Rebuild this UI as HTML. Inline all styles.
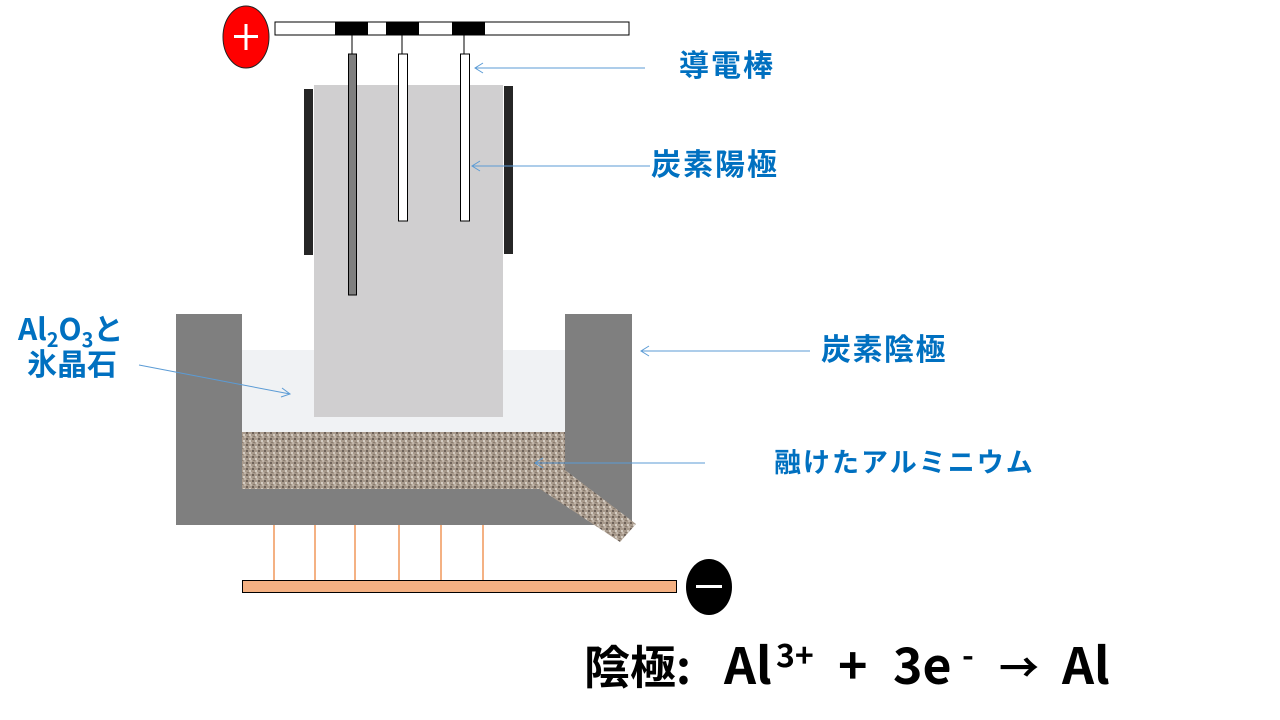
<!DOCTYPE html>
<html><head><meta charset="utf-8"><style>
html,body{margin:0;padding:0;background:#fff;}
svg{display:block;}
text{font-family:"Noto Sans CJK JP","Liberation Sans",sans-serif;font-weight:bold;}
</style></head><body>
<svg width="1280" height="720" viewBox="0 0 1280 720" xmlns="http://www.w3.org/2000/svg">
<defs>
<pattern id="al" width="6" height="6" patternUnits="userSpaceOnUse">
<rect width="6" height="6" fill="#a89a8c"/>
<rect x="0" y="0" width="2" height="2" fill="#6e6259"/>
<rect x="3" y="2" width="2" height="2" fill="#d4ccc2"/>
<rect x="1" y="4" width="2" height="1" fill="#8a7d70"/>
<rect x="4" y="4" width="2" height="2" fill="#c2b6aa"/>
</pattern>
</defs>
<ellipse cx="246" cy="37" rx="23" ry="31" fill="#ff0000" stroke="#222" stroke-width="1"/>
<rect x="234" y="35" width="24" height="3" fill="#fff"/>
<rect x="244.5" y="24" width="3" height="26" fill="#fff"/>
<rect x="275" y="22" width="354" height="13" fill="#fff" stroke="#000" stroke-width="1"/>
<rect x="335" y="22" width="33" height="13" fill="#000"/>
<rect x="386" y="22" width="33" height="13" fill="#000"/>
<rect x="452" y="22" width="33" height="13" fill="#000"/>
<line x1="352" y1="35" x2="352" y2="54" stroke="#000"/>
<line x1="402" y1="35" x2="402" y2="54" stroke="#000"/>
<line x1="464" y1="35" x2="464" y2="54" stroke="#000"/>
<rect x="304" y="89" width="9" height="166" fill="#262626"/>
<rect x="504" y="86" width="9" height="168" fill="#262626"/>
<rect x="176" y="314" width="456" height="211" fill="#7f7f7f"/>
<rect x="242" y="314" width="323" height="36" fill="#fff"/>
<rect x="242" y="350" width="323" height="82" fill="#f0f2f4"/>
<rect x="242" y="432" width="323" height="57" fill="url(#al)"/>
<polygon points="540,489 565,470 636,524 620,542" fill="url(#al)"/>
<rect x="314" y="85" width="189" height="332" fill="#d0cfd0"/>
<rect x="348.5" y="54" width="8" height="241" fill="#7f7f7f" stroke="#000" stroke-width="1"/>
<rect x="398.5" y="54" width="9" height="167" fill="#fff" stroke="#000" stroke-width="1"/>
<rect x="460.5" y="54" width="9" height="167" fill="#fff" stroke="#000" stroke-width="1"/>
<g stroke="#ed7d31" stroke-width="1.2">
<line x1="274" y1="525" x2="274" y2="582"/><line x1="315" y1="525" x2="315" y2="582"/>
<line x1="355" y1="525" x2="355" y2="586"/><line x1="399" y1="525" x2="399" y2="586"/>
<line x1="441" y1="525" x2="441" y2="586"/><line x1="483" y1="525" x2="483" y2="582"/>
</g>
<rect x="242.5" y="580.5" width="434" height="12" fill="#f4b183" stroke="#000" stroke-width="1"/>
<ellipse cx="709" cy="587" rx="23" ry="28" fill="#000"/>
<rect x="696" y="585" width="26" height="3" fill="#fff"/>
<g stroke="#5b9bd5" stroke-width="1" fill="none">
<line x1="645" y1="68" x2="475" y2="68"/><polyline points="483,63 475,68 483,73"/>
<line x1="650" y1="166" x2="472" y2="166"/><polyline points="480,161 472,166 480,171"/>
<line x1="810" y1="351" x2="641" y2="351"/><polyline points="649,346 641,351 649,356"/>
<line x1="705" y1="463" x2="535" y2="463"/><polyline points="543,458 535,463 543,468"/>
<line x1="139" y1="365" x2="290" y2="394"/><polyline points="282,388 290,394 281,397"/>
</g>
<g fill="#0070c0">
<text x="679" y="76" font-size="30" letter-spacing="2">導電棒</text>
<text x="651" y="175" font-size="30" letter-spacing="2">炭素陽極</text>
<text x="821" y="360" font-size="30" letter-spacing="1.5">炭素陰極</text>
<text x="774" y="472" font-size="27" letter-spacing="2">融けたアルミニウム</text>
<text x="18" y="340" font-size="30">Al<tspan font-size="20" dy="7">2</tspan><tspan dy="-7">O</tspan><tspan font-size="20" dy="7">3</tspan><tspan dy="-7">と</tspan></text>
<text x="27" y="375" font-size="30">氷晶石</text>
</g>
<g fill="#000">
<text x="584" y="684" font-size="46">陰極:</text>
<text x="724" y="684" font-size="50">Al</text>
<text x="776" y="667" font-size="32">3+</text>
<text x="838" y="684" font-size="50">+</text>
<text x="893" y="684" font-size="50">3e</text>
<text x="962" y="667" font-size="32">-</text>
<text x="999" y="682" font-size="40">→</text>
<text x="1062" y="684" font-size="50">Al</text>
</g>
</svg>
</body></html>
